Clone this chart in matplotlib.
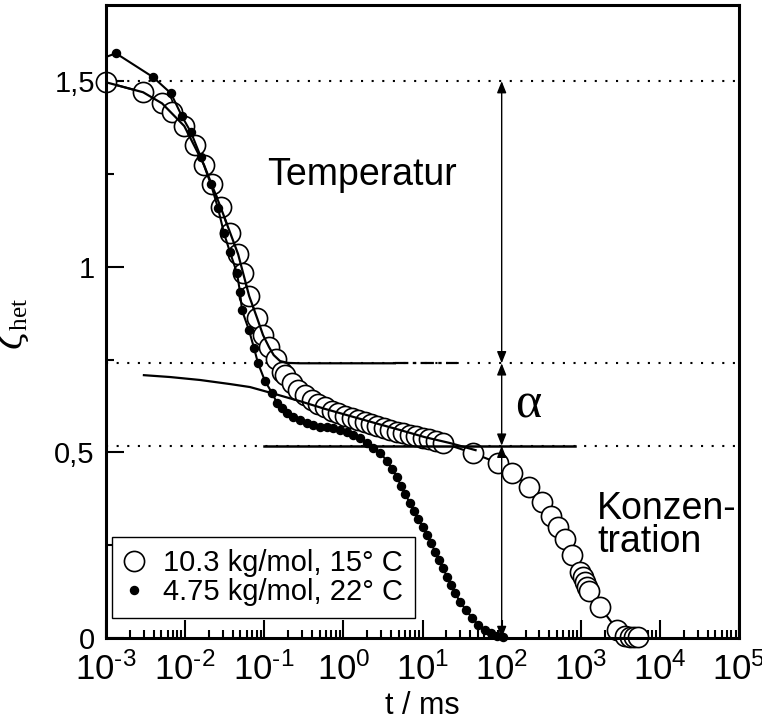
import numpy as np
import matplotlib
matplotlib.use('Agg')
import matplotlib.pyplot as plt
from matplotlib.lines import Line2D
from matplotlib.ticker import LogLocator, FixedLocator, MultipleLocator, NullFormatter, FuncFormatter

plt.rcParams['font.family'] = ['Liberation Sans', 'DejaVu Sans']
plt.rcParams['mathtext.fontset'] = 'custom'
plt.rcParams['mathtext.rm'] = 'Liberation Serif'
plt.rcParams['mathtext.it'] = 'DejaVu Serif:italic'

# 10.3 kg/mol, 15 C  (log10 of t in ms, zeta_het)
open_log_t = [-3.0, -2.53, -2.29, -2.17, -2.01, -1.875, -1.76, -1.66, -1.55, -1.43,
              -1.33, -1.27, -1.19, -1.09, -1.015, -0.94, -0.85, -0.775, -0.737, -0.65,
              -0.573, -0.484, -0.396, -0.32, -0.231, -0.143, -0.067, 0.022, 0.111, 0.186,
              0.274, 0.35, 0.426, 0.515, 0.59, 0.679, 0.755, 0.843, 0.919, 1.008,
              1.083, 1.172, 1.26, 1.64, 1.956, 2.133, 2.348, 2.512, 2.626, 2.714,
              2.803, 2.891, 2.992, 3.03, 3.056, 3.081, 3.106, 3.245, 3.46, 3.561,
              3.625, 3.675, 3.726]
open_zeta = [1.497, 1.47, 1.44, 1.416, 1.379, 1.327, 1.274, 1.222, 1.16, 1.09,
             1.034, 0.983, 0.921, 0.862, 0.816, 0.784, 0.751, 0.716, 0.708, 0.687,
             0.668, 0.654, 0.641, 0.63, 0.622, 0.611, 0.606, 0.598, 0.592, 0.587,
             0.582, 0.576, 0.571, 0.565, 0.56, 0.555, 0.552, 0.547, 0.544, 0.539,
             0.536, 0.53, 0.525, 0.498, 0.471, 0.444, 0.407, 0.366, 0.328, 0.299,
             0.267, 0.223, 0.178, 0.164, 0.151, 0.137, 0.127, 0.083, 0.022, 0.005,
             0.003, 0.003, 0.003]

# 4.75 kg/mol, 22 C
filled_log_t = [-2.874, -2.406, -2.178, -2.039, -1.925, -1.799, -1.673, -1.584, -1.508, -1.432,
                -1.344, -1.306, -1.281, -1.192, -1.129, -1.078, -0.99, -0.901, -0.838, -0.775,
                -0.712, -0.636, -0.547, -0.459, -0.383, -0.295, -0.206, -0.13, -0.042, 0.047,
                0.123, 0.211, 0.3, 0.375, 0.464, 0.553, 0.616, 0.679, 0.729, 0.78,
                0.843, 0.894, 0.944, 1.008, 1.058, 1.109, 1.159, 1.21, 1.26, 1.311,
                1.362, 1.412, 1.475, 1.551, 1.627, 1.703, 1.791, 1.867, 1.943, 2.019]
filled_zeta = [1.575, 1.511, 1.467, 1.405, 1.362, 1.295, 1.222, 1.158, 1.09, 1.039,
               0.983, 0.932, 0.883, 0.829, 0.781, 0.74, 0.692, 0.66, 0.633, 0.619,
               0.606, 0.595, 0.587, 0.579, 0.573, 0.568, 0.568, 0.565, 0.56, 0.555,
               0.547, 0.539, 0.525, 0.512, 0.498, 0.477, 0.455, 0.433, 0.409, 0.388,
               0.363, 0.342, 0.32, 0.299, 0.277, 0.256, 0.232, 0.21, 0.188, 0.164,
               0.143, 0.121, 0.097, 0.075, 0.054, 0.035, 0.022, 0.013, 0.005, 0.003]
filled_fit_start = (-3.0, 1.565)

# temperature step fit (levels off at the middle level)
temp_fit_log_t = [-3.0, -2.53, -2.29, -2.01, -1.76, -1.55, -1.33, -1.19, -1.09, -1.015,
                  -0.94, -0.88, -0.80, -0.70, -0.55, 0.65]
temp_fit_zeta = [1.497, 1.470, 1.440, 1.379, 1.274, 1.160, 1.034, 0.921, 0.862, 0.816,
                 0.784, 0.762, 0.746, 0.741, 0.740, 0.740]
temp_fit_tail_log_t = [0.65, 1.44]

# slow concentration fit
alpha_fit_log_t = [-2.52, -2.19, -1.81, -1.43, -1.18, -0.86, -0.55, -0.23, 0.085, 0.40,
                   0.72, 1.03, 1.35, 1.67]
alpha_fit_zeta = [0.708, 0.703, 0.695, 0.684, 0.676, 0.657, 0.638, 0.617, 0.598, 0.579,
                  0.560, 0.541, 0.525, 0.506]

levels = [1.5, 0.74, 0.518]
conc_line_log_t = [-1.0, 2.93]
arrow_t = 100.0

labels = ['10.3 kg/mol, 15° C', '4.75 kg/mol, 22° C']

fig = plt.figure(figsize=(7.62, 7.28), dpi=100)
ax = fig.add_axes([0.139, 0.1236, 0.831, 0.8695])
ax.set_xscale('log')

# dotted reference levels
for lev in levels:
    ax.axhline(lev, color='k', lw=1.5, linestyle=(0, (1, 4.1)), zorder=1)

# open circles with connecting line
ax.plot(10 ** np.array(open_log_t), open_zeta, '-', color='k', lw=1.5, zorder=2,
        marker='o', ms=14.5, mfc='white', mec='k', mew=1.2, clip_on=False)

# filled dots with fit line
ax.plot(10 ** np.r_[filled_fit_start[0], filled_log_t], np.r_[filled_fit_start[1], filled_zeta],
        '-', color='k', lw=1.5, zorder=4)
ax.plot(10 ** np.array(filled_log_t), filled_zeta, 'o', color='k', ms=5.8, zorder=4,
        clip_on=False)

# fit components
ax.plot(10 ** np.array(temp_fit_log_t), temp_fit_zeta, '-', color='k', lw=1.6, zorder=5)
ax.plot(10 ** np.array(temp_fit_tail_log_t), [levels[1]] * 2, color='k', lw=1.6,
        linestyle=(0, (6, 2, 1.5, 2)), zorder=5)
ax.plot(10 ** np.array(alpha_fit_log_t), alpha_fit_zeta, '-', color='k', lw=1.6, zorder=5)
ax.plot(10 ** np.array(conc_line_log_t), [levels[2]] * 2, '-', color='k', lw=1.8, zorder=5)

# double arrows at t = 100 ms
arrow_props = dict(arrowstyle='<|-|>,head_length=0.7,head_width=0.28', color='k', lw=1.0,
                   shrinkA=0, shrinkB=0, mutation_scale=10)
for top, bottom in [(levels[0], levels[1]), (levels[1], levels[2]), (levels[2], 0.0)]:
    ax.annotate('', xy=(arrow_t, bottom), xytext=(arrow_t, top), arrowprops=arrow_props,
                zorder=6, annotation_clip=False)

ax.text(10 ** 0.23, 1.247, 'Temperatur', fontsize=27, ha='center', va='center')
ax.text(10 ** 2.17, 0.595, 'α', fontsize=36, family=['Liberation Serif', 'DejaVu Serif'],
        ha='left', va='baseline')
ax.text(10 ** 3.207, 0.2316, 'Konzen-\ntration', fontsize=27, ha='left', va='baseline',
        linespacing=0.9)

ax.set_xlim(1e-3, 1e5)
ax.set_ylim(0, 1.705)


def decade_label(val, pos):
    exp = int(round(np.log10(val)))
    sign = '\u2010' if exp < 0 else ''
    return r'$\mathdefault{10^{%s%d}}$' % (sign, abs(exp))


ax.xaxis.set_major_locator(LogLocator(base=10, numticks=20))
ax.xaxis.set_major_formatter(FuncFormatter(decade_label))
ax.xaxis.set_minor_locator(LogLocator(base=10, subs=np.arange(2, 10), numticks=20))
ax.xaxis.set_minor_formatter(NullFormatter())
ax.yaxis.set_major_locator(FixedLocator([0, 0.5, 1, 1.5]))
ax.set_yticklabels(['0', '0,5', '1', '1,5'])
ax.yaxis.set_minor_locator(MultipleLocator(0.25))

ax.tick_params(which='both', direction='in', top=False, right=False, width=1.5)
ax.tick_params(which='major', length=13)
ax.tick_params(which='minor', length=6)
ax.tick_params(axis='y', which='major', labelsize=21, pad=8)
ax.tick_params(axis='x', which='major', labelsize=25, pad=10)
for sp in ax.spines.values():
    sp.set_linewidth(2.2)

ax.set_xlabel('t / ms', fontsize=22)
ax.xaxis.set_label_coords(0.5, -0.083)
ax.set_ylabel(r'$\zeta_{\mathrm{het}}$', fontsize=26)
ax.yaxis.set_label_coords(-0.118, 0.496)

handles = [
    Line2D([], [], linestyle='none', marker='o', ms=14.5, mfc='white', mec='k', mew=1.2),
    Line2D([], [], linestyle='none', marker='o', ms=5.8, color='k'),
]
leg = ax.legend(handles, labels, loc='lower left', bbox_to_anchor=(0.0095, 0.0316),
                borderaxespad=0, fontsize=21, frameon=True, fancybox=False,
                edgecolor='k', framealpha=1, handlelength=0.7, handletextpad=0.65,
                borderpad=0.4, labelspacing=0.05)
leg.get_frame().set_linewidth(1.0)
leg.set_zorder(7)

fig.savefig('out.png', dpi=100)
